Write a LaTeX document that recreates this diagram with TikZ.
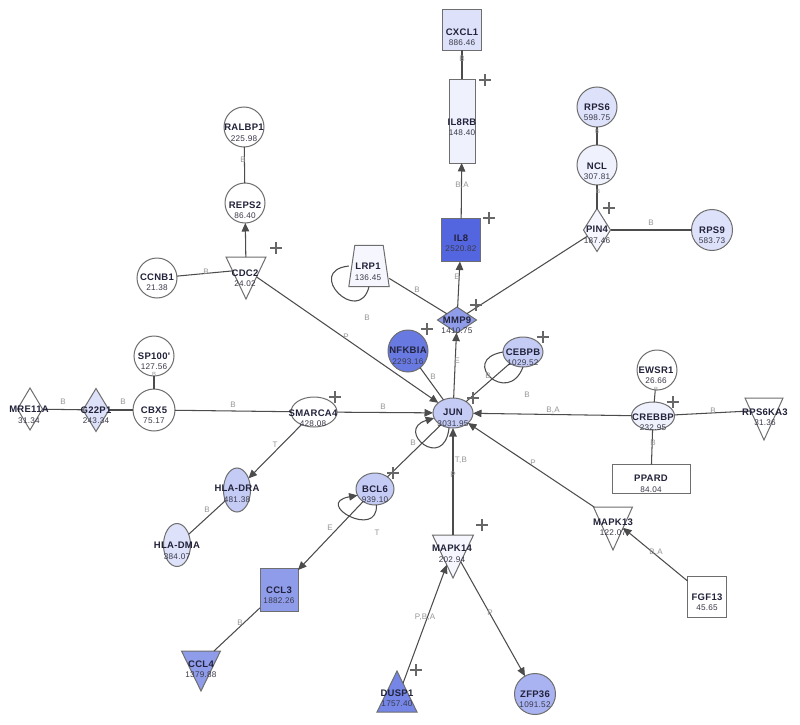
\documentclass[tikz,border=0pt]{standalone}
\usepackage{fontspec}
\setmainfont{Liberation Sans}
\newfontfamily\gfont[LetterSpace=3]{Liberation Sans}
\usetikzlibrary{shapes.geometric,arrows.meta}
\definecolor{outl}{HTML}{6E6E6E}
\definecolor{edgec}{HTML}{4C4C4C}
\definecolor{lblc}{HTML}{969696}
\definecolor{txtc}{HTML}{22223A}
\definecolor{valc}{HTML}{3A3A4A}
\definecolor{fA}{HTML}{5366DF}
\definecolor{fAb}{HTML}{6879E2}
\definecolor{fAc}{HTML}{7586E6}
\definecolor{fB}{HTML}{8F9CEA}
\definecolor{fZ}{HTML}{A9B3F1}
\definecolor{fC}{HTML}{C4CBF5}
\definecolor{fD}{HTML}{DDE1F9}
\definecolor{fE}{HTML}{EFF1FD}
\definecolor{fF}{HTML}{F6F7FE}
\newcommand\nm[1]{{\bfseries\fontsize{9.5}{10.5}\selectfont #1}}
\newcommand\vl[1]{{\color{valc}\fontsize{8.2}{10.5}\selectfont #1}}
\newcommand\plusmk[1]{\draw[plusst] (#1) ++(-6,0) -- ++(12,0) ++(-6,-6) -- ++(0,12);}
\begin{document}
\begin{tikzpicture}[x=1pt,y=-1pt,
  base/.style={draw=outl, line width=1pt, inner sep=0pt, outer sep=0pt, fill=white},
  circ/.style={base, circle, minimum size=40pt},
  ell/.style={base, ellipse},
  rectn/.style={base, rectangle},
  dia/.style={base, diamond},
  tridown/.style={base, isosceles triangle, isosceles triangle stretches, shape border rotate=-90, anchor=apex},
  triup/.style={base, isosceles triangle, isosceles triangle stretches, shape border rotate=90, anchor=apex},
  txt/.style={align=center, inner sep=0pt, text=txtc, font=\gfont\fontsize{8.5}{10.5}\selectfont},
  lbl/.style={inner sep=0pt, text=lblc, font=\gfont\fontsize{8}{9}\selectfont},
  slbl/.style={inner sep=0pt, text=lblc, font=\gfont\fontsize{6}{6}\selectfont},
  edge/.style={draw=edgec, line width=1.05pt},
  arr/.style={edge, -{Triangle[length=8.5pt,width=7.5pt]}},
  plusst/.style={draw=edgec!85, line width=1.2pt}
]
\useasboundingbox (0,0) rectangle (800,725);
\fill[white] (0,0) rectangle (800,725);

% ---- nodes (shapes) ----
\node[rectn, fill=fD, minimum width=39pt, minimum height=41pt] (cxcl1) at (462,30) {};
\node[rectn, fill=fE, minimum width=26pt, minimum height=84pt] (il8rb) at (462,121) {};
\node[rectn, fill=fA, minimum width=39pt, minimum height=43pt] (il8) at (461,240) {};
\node[circ, fill=fD] (rps6) at (597,107) {};
\node[circ, fill=fE] (ncl) at (597,165) {};
\node[dia, fill=fF, minimum width=27pt, minimum height=43pt] (pin4) at (597,230) {};
\node[circ, fill=fD, minimum size=41pt] (rps9) at (712,230) {};
\node[circ] (ralbp1) at (244,127) {};
\node[circ] (reps2) at (245,203) {};
\node[tridown, minimum width=40pt, minimum height=42pt] (cdc2) at (246,299) {};
\node[circ] (ccnb1) at (157,278) {};
\node[rectangle, inner sep=0pt, minimum width=40pt, minimum height=41pt] (lrp1) at (369,266) {};
\draw[draw=outl, line width=1pt, fill=fF] (lrp1.south west) -- (lrp1.south east) -- ([xshift=-6pt]lrp1.north east) -- ([xshift=6pt]lrp1.north west) -- cycle;
\node[dia, fill=fB, minimum width=39pt, minimum height=26pt] (mmp9) at (457,320) {};
\node[ell, fill=fAb, minimum width=40pt, minimum height=42pt] (nfkbia) at (408,351) {};
\node[ell, fill=fC, minimum width=40pt, minimum height=30pt] (cebpb) at (523,352) {};
\node[ell, fill=fC, minimum width=40pt, minimum height=30pt] (jun) at (453,413) {};
\node[ell, minimum width=46pt, minimum height=30pt] (smarca4) at (314,412) {};
\node[circ, minimum size=42pt] (cbx5) at (154,410) {};
\node[circ] (sp100) at (154,356) {};
\node[dia, fill=fD, minimum width=26pt, minimum height=43pt] (g22p1) at (96,410) {};
\node[dia, minimum width=25pt, minimum height=42pt] (mre11a) at (30,409) {};
\node[circ] (ewsr1) at (657,370) {};
\node[ell, fill=fE, minimum width=43pt, minimum height=28pt] (crebbp) at (653,416) {};
\node[tridown, minimum width=38pt, minimum height=42pt] (rps6ka3) at (764,440) {};
\node[rectn, minimum width=78pt, minimum height=29pt] (ppard) at (651,479) {};
\node[ell, fill=fC, minimum width=27pt, minimum height=44pt] (hladra) at (237,490) {};
\node[ell, fill=fD, minimum width=27pt, minimum height=43pt] (hladma) at (177,545) {};
\node[ell, fill=fC, minimum width=38pt, minimum height=32pt] (bcl6) at (375,489) {};
\node[rectn, fill=fB, minimum width=38pt, minimum height=43pt] (ccl3) at (279,590) {};
\node[tridown, fill=fB, minimum width=39pt, minimum height=40pt] (ccl4) at (201,691) {};
\node[tridown, fill=fF, minimum width=41pt, minimum height=43pt] (mapk14) at (453,578) {};
\node[triup, fill=fAc, minimum width=40pt, minimum height=41pt] (dusp1) at (397,671) {};
\node[circ, fill=fZ, minimum size=41pt] (zfp36) at (535,694) {};
\node[tridown, minimum width=39pt, minimum height=43pt] (mapk13) at (613,550) {};
\node[rectn, minimum width=39pt, minimum height=41pt] (fgf13) at (707,597) {};

% ---- connectors ----
\draw[edge] (cxcl1) -- (il8rb);
\draw[arr] (il8) -- (il8rb);
\draw[arr] (mmp9) -- (il8);
\draw[arr] (jun) -- (mmp9);
\draw[edge] (lrp1) -- (mmp9);
\draw[edge] (pin4) -- (mmp9);
\draw[edge] (rps6) -- (ncl);
\draw[edge] (ncl) -- (pin4);
\draw[edge] (pin4) -- (rps9);
\draw[edge] (ralbp1) -- (reps2);
\draw[arr] (cdc2) -- (reps2);
\draw[edge] (ccnb1) -- (cdc2);
\draw[arr] (cdc2) -- (jun);
\draw[edge] (nfkbia) -- (jun);
\draw[edge] (cebpb) -- (jun);
\draw[arr] (smarca4) -- (jun);
\draw[edge] (cbx5) -- (smarca4);
\draw[edge] (sp100) -- (cbx5);
\draw[edge] (g22p1) -- (cbx5);
\draw[edge] (mre11a) -- (g22p1);
\draw[arr] (smarca4) -- (hladra);
\draw[edge] (hladra) -- (hladma);
\draw[edge] (jun) -- (bcl6);
\draw[arr] (bcl6) -- (ccl3);
\draw[edge] (ccl3) -- (ccl4);
\draw[arr] (mapk14) -- (jun);
\draw[arr] (dusp1) -- (mapk14);
\draw[arr] (mapk14) -- (zfp36);
\draw[arr] (mapk13) -- (jun);
\draw[arr] (fgf13) -- (mapk13);
\draw[arr] (crebbp) -- (jun);
\draw[edge] (ewsr1) -- (crebbp);
\draw[edge] (crebbp) -- (ppard);
\draw[edge] (crebbp) -- (rps6ka3);
% self loops
\draw[edge] (lrp1.west) .. controls +(-45,5) and +(-10,40) .. (lrp1.south);
\draw[edge] (cebpb.west) .. controls +(-45,8) and +(-15,40) .. (cebpb.south);
\draw[arr] (jun.255) .. controls +(-5,45) and +(-40,12) .. (jun.195);
\draw[arr] (bcl6.275) .. controls +(2,35) and +(-45,8) .. (bcl6.200);

% ---- node texts ----
\node[txt] (cxcl1-t) at (462,37) {\nm{CXCL1}\\\vl{886.46}};
\node[txt] (il8rb-t) at (462,127) {\nm{IL8RB}\\\vl{148.40}};
\node[txt] (il8-t) at (461,243) {\nm{IL8}\\\vl{2520.82}};
\node[txt] (rps6-t) at (597,112) {\nm{RPS6}\\\vl{598.75}};
\node[txt] (ncl-t) at (597,171) {\nm{NCL}\\\vl{307.81}};
\node[txt] (pin4-t) at (597,235) {\nm{PIN4}\\\vl{187.46}};
\node[txt] (rps9-t) at (712,235) {\nm{RPS9}\\\vl{583.73}};
\node[txt] (ralbp1-t) at (244,133) {\nm{RALBP1}\\\vl{225.98}};
\node[txt] (reps2-t) at (245,210) {\nm{REPS2}\\\vl{86.40}};
\node[txt] (cdc2-t) at (245,278) {\nm{CDC2}\\\vl{24.02}};
\node[txt] (ccnb1-t) at (157,282) {\nm{CCNB1}\\\vl{21.38}};
\node[txt] (lrp1-t) at (368,272) {\nm{LRP1}\\\vl{136.45}};
\node[txt] (mmp9-t) at (457,325) {\nm{MMP9}\\\vl{1410.75}};
\node[txt] (nfkbia-t) at (408,356) {\nm{NFKBIA}\\\vl{2293.16}};
\node[txt] (cebpb-t) at (523,357) {\nm{CEBPB}\\\vl{1029.52}};
\node[txt] (jun-t) at (453,418) {\nm{JUN}\\\vl{3031.95}};
\node[txt] (smarca4-t) at (313,418) {\nm{SMARCA4}\\\vl{428.08}};
\node[txt] (cbx5-t) at (154,415) {\nm{CBX5}\\\vl{75.17}};
\node[txt] (sp100-t) at (154,361) {\nm{SP100'}\\\vl{127.56}};
\node[txt] (g22p1-t) at (96,415) {\nm{G22P1}\\\vl{243.34}};
\node[txt] (mre11a-t) at (29,415) {\nm{MRE11A}\\\vl{31.34}};
\node[txt] (ewsr1-t) at (656,375) {\nm{EWSR1}\\\vl{26.66}};
\node[txt] (crebbp-t) at (653,422) {\nm{CREBBP}\\\vl{232.95}};
\node[txt] (rps6ka3-t) at (765,417) {\nm{RPS6KA3}\\\vl{31.36}};
\node[txt] (ppard-t) at (651,484) {\nm{PPARD}\\\vl{84.04}};
\node[txt] (hladra-t) at (237,494) {\nm{HLA-DRA}\\\vl{481.38}};
\node[txt] (hladma-t) at (177,551) {\nm{HLA-DMA}\\\vl{384.07}};
\node[txt] (bcl6-t) at (375,494) {\nm{BCL6}\\\vl{939.10}};
\node[txt] (ccl3-t) at (279,595) {\nm{CCL3}\\\vl{1882.26}};
\node[txt] (ccl4-t) at (201,669) {\nm{CCL4}\\\vl{1379.88}};
\node[txt] (mapk14-t) at (452,554) {\nm{MAPK14}\\\vl{202.94}};
\node[txt] (dusp1-t) at (397,698) {\nm{DUSP1}\\\vl{1757.40}};
\node[txt] (zfp36-t) at (535,699) {\nm{ZFP36}\\\vl{1091.52}};
\node[txt] (mapk13-t) at (613,527) {\nm{MAPK13}\\\vl{122.07}};
\node[txt] (fgf13-t) at (707,602) {\nm{FGF13}\\\vl{45.65}};

% ---- edge labels ----
\node[lbl] (l1) at (462,59) {B};
\node[lbl] (l2) at (462,185) {B,A};
\node[lbl] (l3) at (457,277) {E};
\node[slbl] (l4) at (597,131) {B};
\node[slbl] (l5) at (598,191) {B};
\node[lbl] (l6) at (651,223) {B};
\node[lbl] (l7) at (243,160) {B};
\node[lbl] (l8) at (206,272) {B};
\node[lbl] (l9) at (346,337) {P};
\node[lbl] (l10) at (417,290) {B};
\node[lbl] (l11) at (367,318) {B};
\node[lbl] (l12) at (457,361) {E};
\node[lbl] (l13) at (433,377) {B};
\node[lbl] (l14) at (488,376) {B};
\node[lbl] (l15) at (527,395) {B};
\node[lbl] (l16) at (553,410) {B,A};
\node[lbl] (l17) at (383,407) {B};
\node[lbl] (l18) at (233,405) {B};
\node[lbl] (l19) at (63,402) {B};
\node[lbl] (l20) at (123,402) {B};
\node[slbl] (l21) at (154,374) {B};
\node[lbl] (l22) at (275,445) {T};
\node[lbl] (l23) at (207,510) {B};
\node[lbl] (l24) at (413,443) {B};
\node[lbl] (l25) at (377,533) {T};
\node[lbl] (l26) at (330,528) {E};
\node[lbl] (l27) at (240,623) {B};
\node[lbl] (l28) at (461,460) {T,B};
\node[lbl] (l29) at (453,475) {P};
\node[lbl] (l30) at (533,463) {P};
\node[lbl] (l31) at (425,617) {P,B,A};
\node[lbl] (l32) at (490,613) {P};
\node[lbl] (l33) at (656,552) {B,A};
\node[slbl] (l34) at (656,389) {B};
\node[lbl] (l35) at (713,411) {B};
\node[lbl] (l36) at (653,443) {B};

% ---- plus marks ----
\plusmk{485,80}
\plusmk{489,218}
\plusmk{609,208}
\plusmk{276,248}
\plusmk{476,305}
\plusmk{427,329}
\plusmk{543,337}
\plusmk{473,398}
\plusmk{335,397}
\plusmk{673,402}
\plusmk{393,473}
\plusmk{482,525}
\plusmk{416,670}
\end{tikzpicture}
\end{document}
